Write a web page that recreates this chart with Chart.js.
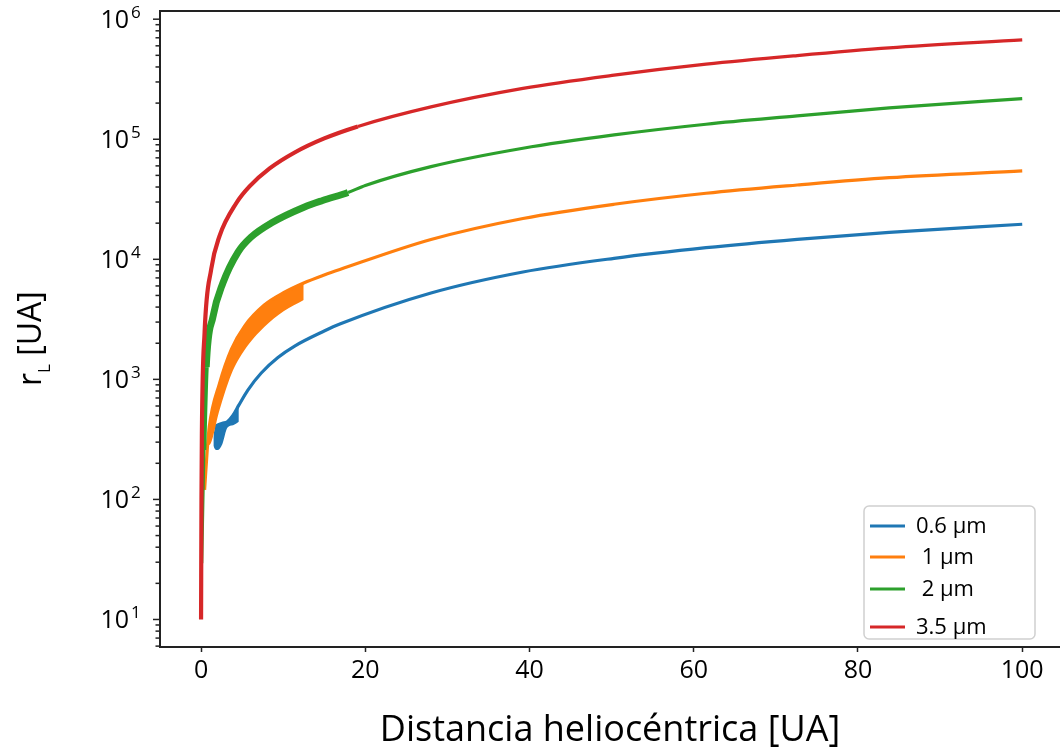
<!DOCTYPE html>
<html>
<head>
<meta charset="utf-8">
<title>Radio de Larmor</title>
<script src="https://cdn.jsdelivr.net/npm/chart.js@4.4.0/dist/chart.umd.min.js"></script>
<style>
  html, body { margin: 0; padding: 0; background: #fff; overflow: hidden; }
</style>
</head>
<body>
<canvas id="rl-graph" width="1060" height="752"></canvas>
<script>
// ---- datos ----
const sizeNames = ['0.6 µm', ' 1 µm', ' 2 µm', '3.5 µm'];
const sizeColors = ['#1f77b4', '#ff7f0e', '#2ca02c', '#d62728'];

// 0.6 um
const blueX = [1.7, 2.0, 2.6, 3.2, 3.9, 4.6, 5.7, 7.33, 9.36, 11.4, 15, 16.9, 28, 39.2, 50.3, 61.5, 72.6, 83.8, 100];
const blueY = [400, 415, 430, 444, 503, 610, 815, 1130, 1520, 1894, 2527, 2890, 5240, 7840, 10190, 12500, 14680, 16790, 19580];
const blueBandX  = [1.5, 1.7, 2.0, 2.6, 3.2, 3.9, 4.6];
const blueBandHi = [330, 400, 415, 430, 440, 500, 610];
const blueBandLo = [280, 262, 258, 290, 395, 415, 444];

// 1 um
const orangeX = [0.43, 0.75, 1.0, 2.25, 3.7, 5.3, 7.7, 10.1, 12.5, 15, 16.9, 28, 39.2, 50.3, 61.5, 72.6, 83.8, 100];
const orangeY = [120, 258, 403, 927, 1789, 2780, 4159, 5289, 6346, 7400, 8222, 14620, 21880, 28730, 35480, 41590, 47860, 54450];
const orangeBandX  = [0.9, 1.0, 2.25, 3.7, 5.3, 7.7, 10.1, 12.5];
const orangeBandHi = [330, 403, 927, 1789, 2780, 4159, 5289, 6346];
const orangeBandLo = [284, 284, 555, 1107, 1754, 2729, 3709, 4579];

// 2 um
const greenX = [0.08, 0.34, 0.63, 1.44, 2.66, 4.5, 6.1, 8.55, 12.6, 14.8, 17.9, 20, 28, 39.2, 50.3, 61.5, 72.6, 83.8, 100];
const greenY = [29.4, 258, 1266, 3304, 6346, 11500, 15350, 20070, 27290, 30900, 36040, 41210, 59130, 84140, 108600, 133400, 156300, 182300, 217900];
const greenThickFrom = 0.34, greenThickTo = 17.9;

// 3.5 um
const redX = [0, 0.05, 0.1, 0.43, 1.24, 2.25, 4.3, 5.9, 8.35, 11.4, 15, 19.1, 28, 39.2, 50.3, 61.5, 72.6, 83.8, 100];
const redY = [10, 100, 355, 2450, 8300, 15630, 29440, 40450, 57150, 77600, 101600, 127900, 185900, 265000, 341500, 421700, 497700, 576400, 672300];
const redThickTo = 19.1;

const xTicks = [0, 20, 40, 60, 80, 100];
const yMajorTicks = [10, 100, 1000, 10000, 100000, 1000000];
const xMin = -5, xMax = 104.6;
const yMin = 5.9, yMax = 1.17e6;

const xTitle = 'Distancia heliocéntrica [UA]';
const fontFamily = '"Open Sans", "DejaVu Sans", sans-serif';
const axisColor = '#222';

function pts(xs, ys) {
    return xs.map((x, i) => ({x: x, y: ys[i]}));
}

function lineSet(label, idx, xs, ys, order, extra) {
    return Object.assign({
        label: label,
        isMain: true,
        data: pts(xs, ys),
        borderColor: sizeColors[idx],
        borderWidth: 3.2,
        pointRadius: 0,
        fill: false,
        cubicInterpolationMode: 'monotone',
        order: order
    }, extra || {});
}

function bandSets(idx, xs, hi, lo, order) {
    return [{
        data: pts(xs, hi),
        borderColor: 'rgba(0,0,0,0)',
        borderWidth: 1,
        backgroundColor: sizeColors[idx],
        pointRadius: 0,
        fill: '+1',
        cubicInterpolationMode: 'monotone',
        order: order
    }, {
        data: pts(xs, lo),
        borderColor: 'rgba(0,0,0,0)',
        borderWidth: 1,
        pointRadius: 0,
        fill: false,
        cubicInterpolationMode: 'monotone',
        order: order
    }];
}

// marcas menores del eje log (2..9 por decada)
const yTickValues = [];
for (let e = 0; e <= 6; e++) {
    for (let m = 1; m <= 9; m++) {
        const v = m * Math.pow(10, e);
        if (v >= yMin && v <= yMax) yTickValues.push(v);
    }
}

const rlDecorPlugin = {
    id: 'rlDecor',
    afterDraw(chart) {
        const ctx = chart.ctx;
        const a = chart.chartArea;
        const y = chart.scales.y;
        ctx.save();

        // borde superior
        ctx.strokeStyle = axisColor;
        ctx.lineWidth = 2;
        ctx.beginPath();
        ctx.moveTo(a.left - 1, a.top);
        ctx.lineTo(a.right, a.top);
        ctx.stroke();

        // marcas del eje y
        ctx.lineWidth = 1.5;
        y.ticks.forEach(t => {
            const py = y.getPixelForValue(t.value);
            const len = t.major ? 6 : 3.5;
            ctx.beginPath();
            ctx.moveTo(a.left - 1 - len, py);
            ctx.lineTo(a.left - 1, py);
            ctx.stroke();
        });

        // etiquetas 10^n
        ctx.fillStyle = '#000';
        ctx.textBaseline = 'alphabetic';
        yMajorTicks.forEach(v => {
            const py = y.getPixelForValue(v);
            const exp = Math.round(Math.log10(v));
            ctx.font = '25px ' + fontFamily;
            ctx.textAlign = 'right';
            ctx.fillText('10', a.left - 31, py + 9);
            ctx.font = '17px ' + fontFamily;
            ctx.textAlign = 'left';
            ctx.fillText(String(exp), a.left - 29, py - 1);
        });

        // titulo eje y: r_L [UA]
        ctx.save();
        ctx.translate(41, 386);
        ctx.rotate(-Math.PI / 2);
        ctx.textAlign = 'left';
        ctx.font = '32px ' + fontFamily;
        ctx.fillText('r', 0, 0);
        let w = ctx.measureText('r').width;
        ctx.font = '17px ' + fontFamily;
        ctx.fillText('L', w, 9);
        w += ctx.measureText('L').width;
        ctx.font = '32px ' + fontFamily;
        ctx.fillText(' [UA]', w, 0);
        ctx.restore();

        // leyenda
        const mains = chart.data.datasets.filter(d => d.isMain)
            .sort((p, q) => sizeNames.indexOf(p.label) - sizeNames.indexOf(q.label));
        const bw = 171, bh = 133;
        const bx = a.right - 25 - bw, by = a.bottom - 8 - bh;
        const rowY = [20, 51, 83, 121];
        ctx.beginPath();
        ctx.roundRect(bx, by, bw, bh, 5);
        ctx.fillStyle = 'rgba(255,255,255,0.8)';
        ctx.fill();
        ctx.strokeStyle = '#d0d0d0';
        ctx.lineWidth = 1.5;
        ctx.stroke();
        ctx.font = '22px ' + fontFamily;
        ctx.textBaseline = 'middle';
        ctx.textAlign = 'left';
        mains.forEach((d, i) => {
            const ly = by + rowY[i];
            ctx.strokeStyle = d.borderColor;
            ctx.lineWidth = 3;
            ctx.beginPath();
            ctx.moveTo(bx + 6, ly);
            ctx.lineTo(bx + 41, ly);
            ctx.stroke();
            ctx.fillStyle = '#000';
            ctx.fillText(d.label, bx + 52, ly + 1);
        });

        ctx.restore();
    }
};

const ctx = document.getElementById('rl-graph').getContext('2d');

const rlChart = new Chart(ctx, {
    type: 'line',
    data: {
        datasets: [
            ...bandSets(0, blueBandX, blueBandHi, blueBandLo, 8),
            lineSet(sizeNames[0], 0, blueX, blueY, 7),
            ...bandSets(1, orangeBandX, orangeBandHi, orangeBandLo, 6),
            lineSet(sizeNames[1], 1, orangeX, orangeY, 5),
            lineSet(sizeNames[2], 2, greenX, greenY, 3, {
                segment: {
                    borderWidth: c => {
                        const x0 = c.p0.parsed.x, x1 = c.p1.parsed.x;
                        if (x0 >= greenThickFrom && x1 <= greenThickTo) return x0 < 0.6 ? 5 : 7;
                        return undefined;
                    }
                }
            }),
            lineSet(sizeNames[3], 3, redX, redY, 1, {
                segment: {
                    borderWidth: c => c.p1.parsed.x <= redThickTo ? 4.2 : undefined
                }
            })
        ]
    },
    options: {
        responsive: false,
        devicePixelRatio: 1,
        animation: false,
        layout: {
            padding: {top: 11, left: 0, right: 0, bottom: 0}
        },
        scales: {
            x: {
                type: 'linear',
                min: xMin,
                max: xMax,
                afterBuildTicks: s => { s.ticks = xTicks.map(v => ({value: v})); },
                afterFit: s => { s.height = 105; },
                border: {display: true, color: axisColor, width: 2},
                grid: {
                    display: true,
                    drawOnChartArea: false,
                    drawTicks: true,
                    tickLength: 5,
                    tickColor: axisColor,
                    tickWidth: 1.5
                },
                ticks: {
                    color: '#000',
                    font: {family: fontFamily, size: 25},
                    padding: 4,
                    maxRotation: 0,
                    autoSkip: false
                },
                title: {
                    display: true,
                    text: xTitle,
                    color: '#000',
                    font: {family: fontFamily, size: 36},
                    padding: {top: 0, bottom: 0}
                }
            },
            y: {
                type: 'logarithmic',
                min: yMin,
                max: yMax,
                afterBuildTicks: s => {
                    s.ticks = yTickValues.map(v => ({value: v, major: yMajorTicks.includes(v)}));
                },
                afterFit: s => { s.width = 160; },
                border: {display: true, color: axisColor, width: 2},
                grid: {display: false},
                ticks: {display: false}
            }
        },
        plugins: {
            legend: {display: false},
            tooltip: {enabled: false}
        }
    },
    plugins: [rlDecorPlugin]
});
</script>
</body>
</html>
